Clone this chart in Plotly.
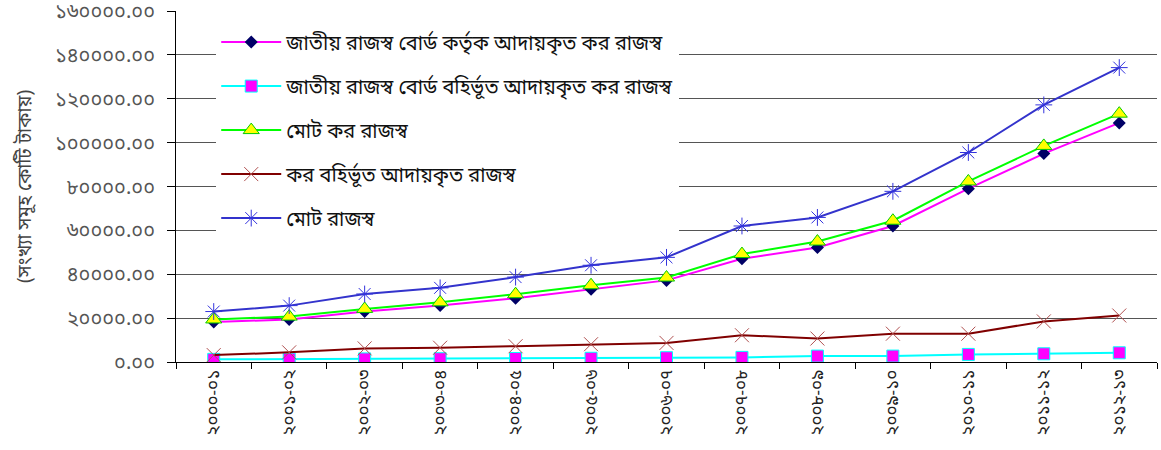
import plotly.graph_objects as go

years = ["২০০০-০১", "২০০১-০২", "২০০২-০৩", "২০০৩-০৪", "২০০৪-০৫", "২০০৫-০৬", "২০০৬-০৭",
         "২০০৭-০৮", "২০০৮-০৯", "২০০৯-১০", "২০১০-১১", "২০১১-১২", "২০১২-১৩"]

nbr_tax = [18200, 19400, 23000, 25700, 29100, 33200, 37200, 47100, 52200, 62000, 79000, 95000, 109000]
non_nbr_tax = [1200, 1300, 1400, 1500, 1600, 1700, 1950, 2100, 2700, 2700, 3450, 3750, 4200]
total_tax = [19400, 20700, 24200, 27200, 30900, 35000, 38500, 49200, 54900, 64400, 82300, 98500, 113200]
non_tax = [3150, 4400, 6200, 6500, 7200, 8100, 8700, 12200, 10700, 12900, 12900, 18500, 21200]
total_rev = [23000, 25700, 31000, 33800, 38700, 44100, 47700, 62000, 65900, 77800, 95500, 117200, 134200]

names = ["জাতীয় রাজস্ব বোর্ড কর্তৃক আদায়কৃত কর রাজস্ব",
         "জাতীয় রাজস্ব বোর্ড বহির্ভূত আদায়কৃত কর রাজস্ব",
         "মোট কর রাজস্ব",
         "কর বহির্ভূত আদায়কৃত রাজস্ব",
         "মোট রাজস্ব"]

y_tick_vals = [0, 20000, 40000, 60000, 80000, 100000, 120000, 140000, 160000]
y_tick_text = ["০.০০", "২০০০০.০০", "৪০০০০.০০", "৬০০০০.০০", "৮০০০০.০০",
               "১০০০০০.০০", "১২০০০০.০০", "১৪০০০০.০০", "১৬০০০০.০০"]
y_title = "(সংখ্যা সমূহ কোটি টাকায়)"

BN_FONT = "Noto Sans Bengali, Lohit Bengali, Noto Sans, DejaVu Sans, sans-serif"

styles = [
    dict(line=dict(color="#FF00FF", width=2),
         marker=dict(symbol="diamond", size=10, color="#000066", line=dict(color="#000066", width=0))),
    dict(line=dict(color="#00FFFF", width=2),
         marker=dict(symbol="square", size=12, color="#FF00FF", line=dict(color="#00FFFF", width=1))),
    dict(line=dict(color="#00FF00", width=2),
         marker=dict(symbol="triangle-up", size=14, color="#FFFF00", line=dict(color="#00CC00", width=1))),
    dict(line=dict(color="#800000", width=2),
         marker=dict(symbol="x-thin-open", size=14, color="#B05050", line=dict(color="#B05050", width=1))),
    dict(line=dict(color="#3333CC", width=2),
         marker=dict(symbol="asterisk-open", size=14, color="#3333DD", line=dict(color="#3333DD", width=1))),
]

series = [nbr_tax, non_nbr_tax, total_tax, non_tax, total_rev]

fig = go.Figure()
for i, (nm, vals, st) in enumerate(zip(names, series, styles)):
    fig.add_trace(go.Scatter(x=years, y=vals, name=nm, mode="lines+markers",
                             legendgroup=f"g{i}", line=st["line"], marker=st["marker"]))

fig.update_layout(
    width=1161, height=450,
    margin=dict(l=176, r=4, t=11, b=88),
    paper_bgcolor="white", plot_bgcolor="white",
    font=dict(family=BN_FONT, color="#222"),
    showlegend=True,
    legend=dict(x=0.041, y=0.967, xanchor="left", yanchor="top",
                bgcolor="white", font=dict(size=20, color="#111"),
                tracegroupgap=15, itemwidth=60),
)
fig.update_xaxes(
    type="category", tickangle=-90, tickson="boundaries", ticks="outside", ticklen=6,
    tickcolor="black", showline=True, linecolor="black", linewidth=1, showgrid=False,
    tickfont=dict(size=17, color="#222"), range=[-0.5, 12.5], automargin=False,
)
fig.update_yaxes(
    range=[0, 160000], tickvals=y_tick_vals, ticktext=y_tick_text,
    ticks="outside", ticklen=8, tickcolor="black", showline=True, linecolor="black",
    linewidth=1, showgrid=True, gridcolor="#555", gridwidth=1,
    tickfont=dict(size=20, color="#555"), zeroline=False, automargin=False,
    ticklabelstandoff=8,
    title=dict(text=y_title, font=dict(size=19, color="#444"), standoff=18),
)

fig.write_html("out.html", post_script="document.body.style.margin='0';",
               config={"displayModeBar": False})
